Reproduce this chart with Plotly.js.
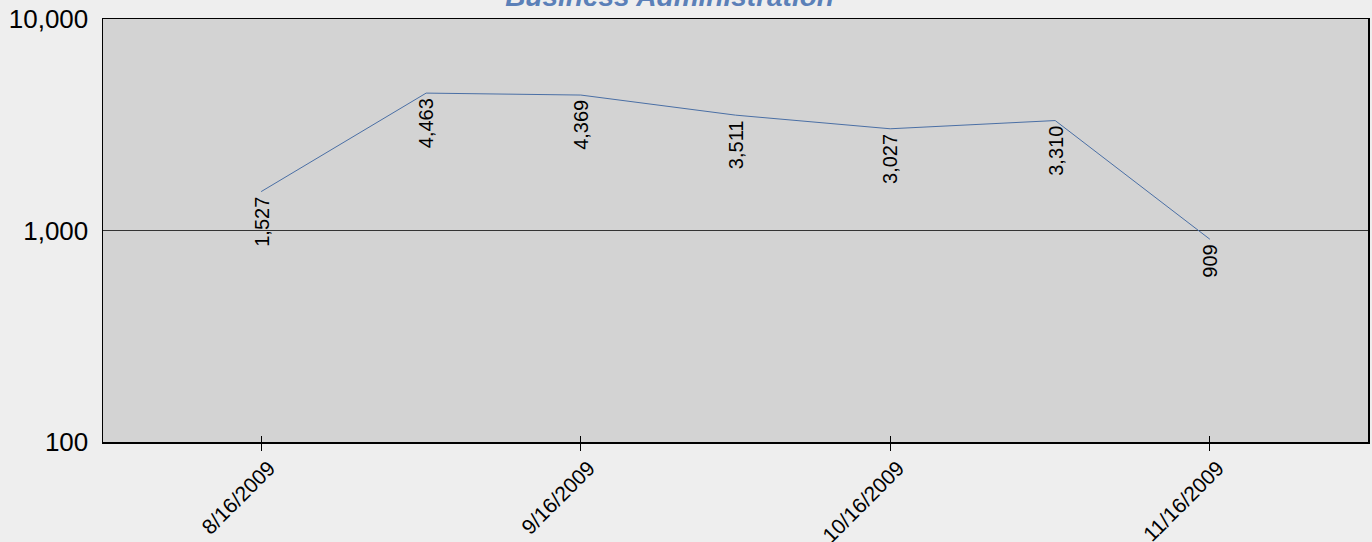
<!DOCTYPE html>
<html>
<head>
<meta charset="utf-8">
<script src="https://cdn.plot.ly/plotly-3.0.1.min.js"></script>
<style>
html,body{margin:0;padding:0;background:#eeeeee;}
#chart{width:1372px;height:542px;}
</style>
</head>
<body>
<div id="chart"></div>
<script>
const dates = ['2009-08-16','2009-09-01','2009-09-16','2009-10-01','2009-10-16','2009-11-01','2009-11-16'];
const values = [1527, 4463, 4369, 3511, 3027, 3310, 909];
const tickDates = ['2009-08-16','2009-09-16','2009-10-16','2009-11-16'];
const tickLabels = ['8/16/2009','9/16/2009','10/16/2009','11/16/2009'];
const yTickVals = [100, 1000, 10000];
const yTickLabels = ['100', '1,000', '10,000'];
const titleText = 'Business Administration';

const xRange = ['2009-07-31 16:00', '2009-12-01 08:00'];
const font = 'Liberation Sans, Arial, sans-serif';

const traces = [
  {
    x: dates, y: values, type: 'scatter', mode: 'lines',
    line: {color: '#4a6fa5', width: 1},
    hoverinfo: 'x+y', showlegend: false
  },
  {
    x: dates, y: values, type: 'scatter', mode: 'lines', xaxis: 'x2',
    line: {color: 'rgba(0,0,0,0)', width: 0},
    hoverinfo: 'skip', showlegend: false
  }
];

const annotations = dates.map((d, i) => ({
  x: d, y: Math.log10(values[i]), xref: 'x', yref: 'y',
  text: values[i].toLocaleString('en-US'),
  showarrow: false, textangle: -90,
  xanchor: 'center', yanchor: 'top', yshift: -3,
  font: {family: font, size: 20, color: '#000'}
}));

const layout = {
  width: 1372, height: 542,
  paper_bgcolor: '#eeeeee', plot_bgcolor: '#d3d3d3',
  margin: {l: 103, r: 4, t: 19, b: 100},
  font: {family: font, color: '#000'},
  title: {
    text: '<b><i>' + titleText + '</i></b>',
    font: {family: font, size: 28, color: '#5b80b8'},
    xref: 'container', x: 0.488, xanchor: 'center',
    yref: 'container', y: 0.989, yanchor: 'bottom'
  },
  xaxis: {
    type: 'date', range: xRange,
    tickvals: tickDates, ticktext: tickLabels, tickangle: -45,
    ticks: 'outside', ticklen: 7, tickcolor: '#000', tickwidth: 1,
    ticklabelshift: 8, ticklabelstandoff: -3,
    tickfont: {family: font, size: 21, color: '#000'},
    showgrid: false, zeroline: false,
    showline: true, linecolor: '#000', linewidth: 1.5, mirror: true
  },
  xaxis2: {
    type: 'date', range: xRange, overlaying: 'x', side: 'bottom',
    tickvals: tickDates, showticklabels: false,
    ticks: 'inside', ticklen: 6, tickcolor: '#000', tickwidth: 1,
    showgrid: false, zeroline: false, showline: false
  },
  yaxis: {
    type: 'log', range: [2, 4],
    tickvals: yTickVals, ticktext: yTickLabels,
    ticks: 'outside', ticklen: 8, tickcolor: 'rgba(0,0,0,0)',
    tickfont: {family: font, size: 26, color: '#000'},
    showgrid: true, gridcolor: '#333333', gridwidth: 1,
    zeroline: false,
    showline: true, linecolor: '#000', linewidth: 1.5, mirror: true
  },
  annotations: annotations,
  showlegend: false
};

Plotly.newPlot('chart', traces, layout, {displayModeBar: false, staticPlot: true});
</script>
</body>
</html>
